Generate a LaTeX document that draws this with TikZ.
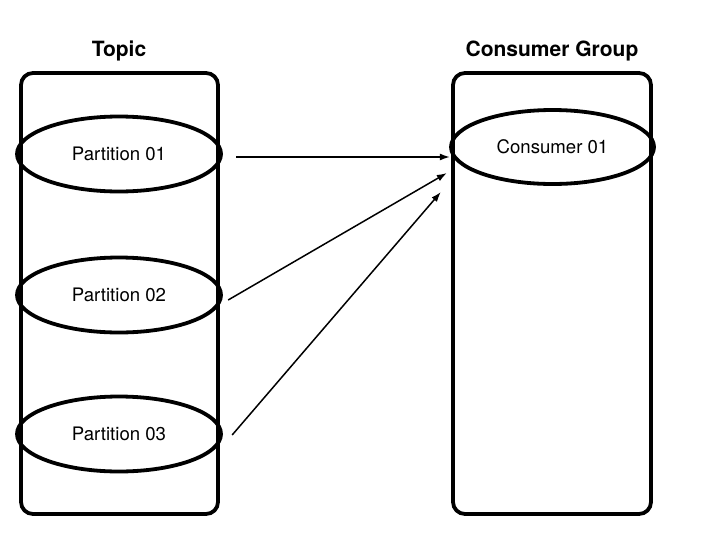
\documentclass[tikz,border=0pt]{standalone}
\usepackage{fontspec}
\setmainfont{TeX Gyre Heros}
\usetikzlibrary{calc,shapes,arrows.meta,positioning}

\begin{document}
\begin{tikzpicture}[x=1pt,y=-1pt]
\tikzstyle{every node}=[font=\fontsize{18.6}{22}\selectfont]
\tikzstyle{group}=[draw,rounded corners=12pt,line width=3.8pt,minimum width=197pt,minimum height=441pt,inner sep=0pt]
\tikzstyle{part}=[draw,ellipse,line width=3.8pt,minimum width=204pt,minimum height=75pt,inner sep=0pt]
\tikzstyle{title}=[anchor=base,font=\fontsize{21}{24}\selectfont\bfseries]
\tikzstyle{feed}=[-{Latex[length=10pt,width=7pt]},line width=1.5pt]
\useasboundingbox (0,0) rectangle (708,546);
\node[group] at (119.5,293.5) (topic){};
\node[group,minimum width=198pt] at (552,293.5) (cgroup){};
\node[part] at (119,154) (p1){Partition 01};
\node[part] at (119,295) (p2){Partition 02};
\node[part] at (119,434) (p3){Partition 03};
\node[part,minimum width=203pt,minimum height=74pt] at (552.5,147) (c1){Consumer 01};
\node[title] at (119,56) (topiclbl){Topic};
\node[title] at (552,56) (cgrouplbl){Consumer Group};
 %draw
 \draw[feed] ($(p1.east)+(13.25,3)$) -- ($(c1.west)+(0.75,10)$);
 \draw[feed] ($(p2.east)+(5.25,5)$) -- ($(c1.west)+(-2.25,26)$);
 \draw[feed] ($(p3.east)+(9.25,1)$) -- ($(c1.west)+(-8.25,45)$);
\end{tikzpicture}
\end{document}
